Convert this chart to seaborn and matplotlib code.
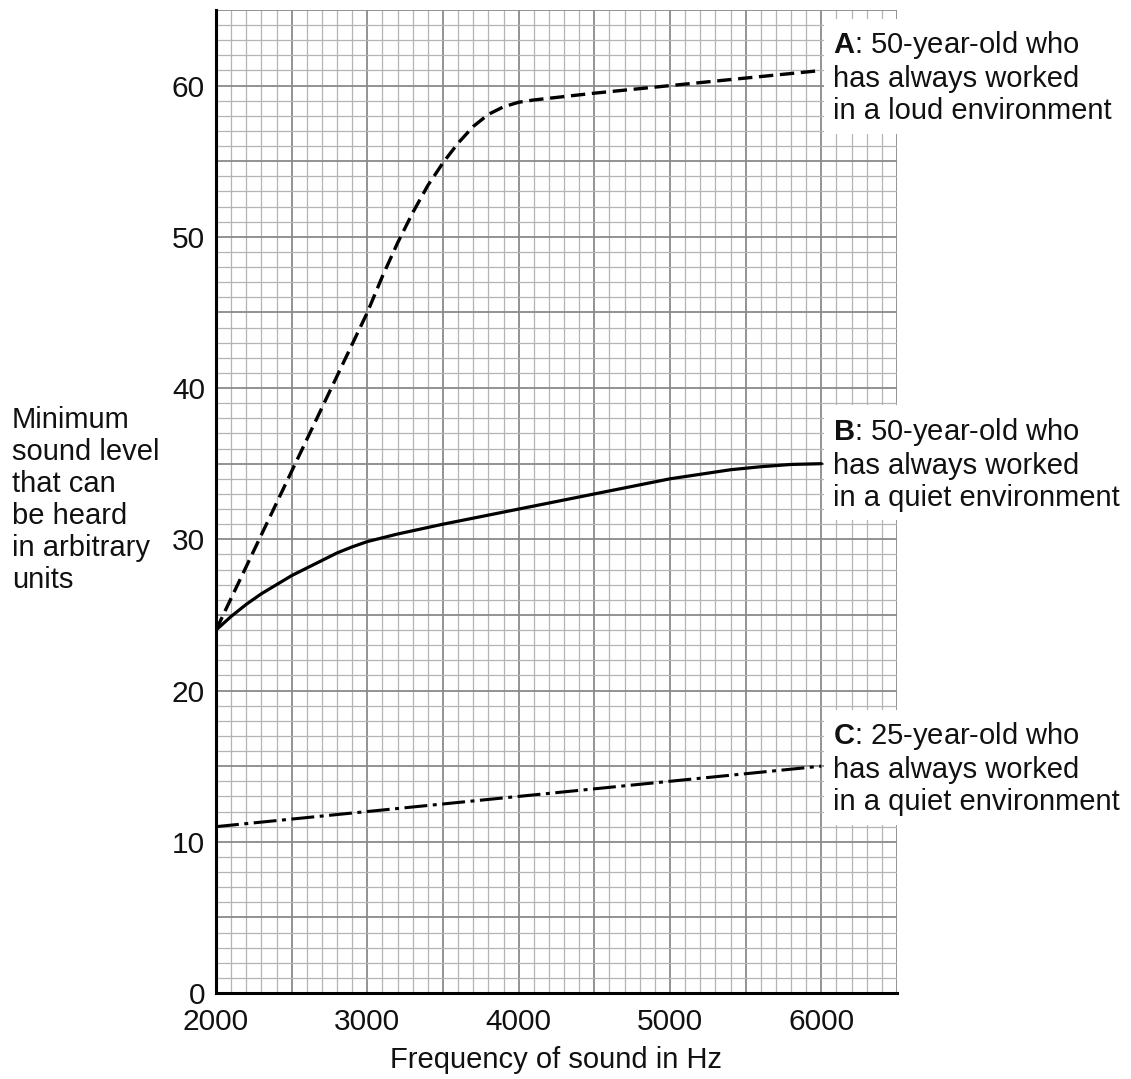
import numpy as np
import pandas as pd
import matplotlib
matplotlib.use("Agg")
import matplotlib.pyplot as plt
import seaborn as sns

# ---- data ----
freq_A = [2000, 2500, 3000, 3100, 3200, 3300, 3400, 3500, 3600, 3700, 3800, 3900, 4000,
          4100, 4500, 5000, 5500, 6000]
level_A = [24, 34.5, 45, 47.4, 49.6, 51.6, 53.4, 54.9, 56.2, 57.3, 58.1, 58.6, 58.9,
           59.05, 59.5, 60, 60.5, 61]

freq_B = [2000, 2100, 2200, 2300, 2400, 2500, 2600, 2700, 2800, 2900, 3000, 3100, 3200,
          3500, 4000, 4500, 5000, 5200, 5400, 5600, 5800, 6000]
level_B = [24, 24.9, 25.7, 26.4, 27.0, 27.6, 28.1, 28.6, 29.1, 29.5, 29.85, 30.1, 30.35,
           31, 32, 33, 34, 34.3, 34.6, 34.8, 34.95, 35]

freq_C = [2000, 3000, 4000, 5000, 6000]
level_C = [11, 12, 13, 14, 15]

labels = {
    "A": r"$\mathbf{A}$: 50-year-old who" + "\nhas always worked\nin a loud environment",
    "B": r"$\mathbf{B}$: 50-year-old who" + "\nhas always worked\nin a quiet environment",
    "C": r"$\mathbf{C}$: 25-year-old who" + "\nhas always worked\nin a quiet environment",
}
x_ticks = [2000, 3000, 4000, 5000, 6000]
y_ticks = [0, 10, 20, 30, 40, 50, 60]
x_label = "Frequency of sound in Hz"
y_label = "Minimum\nsound level\nthat can\nbe heard\nin arbitrary\nunits"

sns.set_theme(style="white")
plt.rcParams["font.family"] = ["Liberation Sans", "DejaVu Sans"]
plt.rcParams["mathtext.fontset"] = "custom"
plt.rcParams["mathtext.rm"] = "Liberation Sans"
plt.rcParams["mathtext.bf"] = "Liberation Sans:bold"

W, H = 1131, 1079
fig = plt.figure(figsize=(W / 100, H / 100), dpi=100)
ax = fig.add_axes([216 / W, 1 - 993 / H, (897 - 216) / W, (993 - 10) / H])
ax.set_xlim(2000, 6500)
ax.set_ylim(0, 65)

# graph-paper grid
for xv in np.arange(2000, 6501, 100):
    major = (xv % 500 == 0)
    ax.axvline(xv, color="#8a8a8a" if major else "#b4b4b4", lw=1.3 if major else 0.9, zorder=1)
for yv in np.arange(0, 66, 1):
    major = (yv % 5 == 0)
    ax.axhline(yv, color="#8a8a8a" if major else "#b4b4b4", lw=1.3 if major else 0.9, zorder=1)

dfA = pd.DataFrame({"f": freq_A, "v": level_A})
dfB = pd.DataFrame({"f": freq_B, "v": level_B})
dfC = pd.DataFrame({"f": freq_C, "v": level_C})

sns.lineplot(data=dfA, x="f", y="v", ax=ax, color="black", lw=2.4, zorder=3, sort=True)
ax.lines[-1].set_dashes((4.3, 2.0))
ax.lines[-1].set_dash_capstyle("butt")
sns.lineplot(data=dfB, x="f", y="v", ax=ax, color="black", lw=2.3, zorder=3, sort=True)
sns.lineplot(data=dfC, x="f", y="v", ax=ax, color="black", lw=2.2, zorder=3, sort=True)
ax.lines[-1].set_dashes((7.5, 1.8, 1.3, 1.8))

label_offsets = {"A": -0.45, "B": 0.0, "C": -0.15}
for key, yv in zip(["A", "B", "C"], [level_A[-1], level_B[-1], level_C[-1]]):
    ax.text(6075, yv + label_offsets[key], labels[key], ha="left", va="center", fontsize=21,
            linespacing=1.18, color="#111111", zorder=6, clip_on=False,
            bbox=dict(facecolor="white", edgecolor="none", pad=6))

for s in ["top", "right"]:
    ax.spines[s].set_visible(False)
for s in ["left", "bottom"]:
    ax.spines[s].set_color("black")
    ax.spines[s].set_linewidth(2.2)
    ax.spines[s].set_zorder(4)

ax.set_xticks(x_ticks)
ax.set_yticks(y_ticks)
ax.tick_params(axis="both", which="major", direction="out", length=6, width=1,
               color="#555555", labelsize=21.5, pad=2, labelcolor="#111111")
ax.tick_params(axis="x", pad=5)
ax.set_xlabel(x_label, fontsize=21, color="#111111", labelpad=7)
ax.set_ylabel("")
fig.text(12 / W, 1 - 500 / H, y_label, ha="left", va="center", fontsize=21,
         linespacing=1.18, color="#111111")

fig.savefig("out.png", dpi=100, facecolor="white")
